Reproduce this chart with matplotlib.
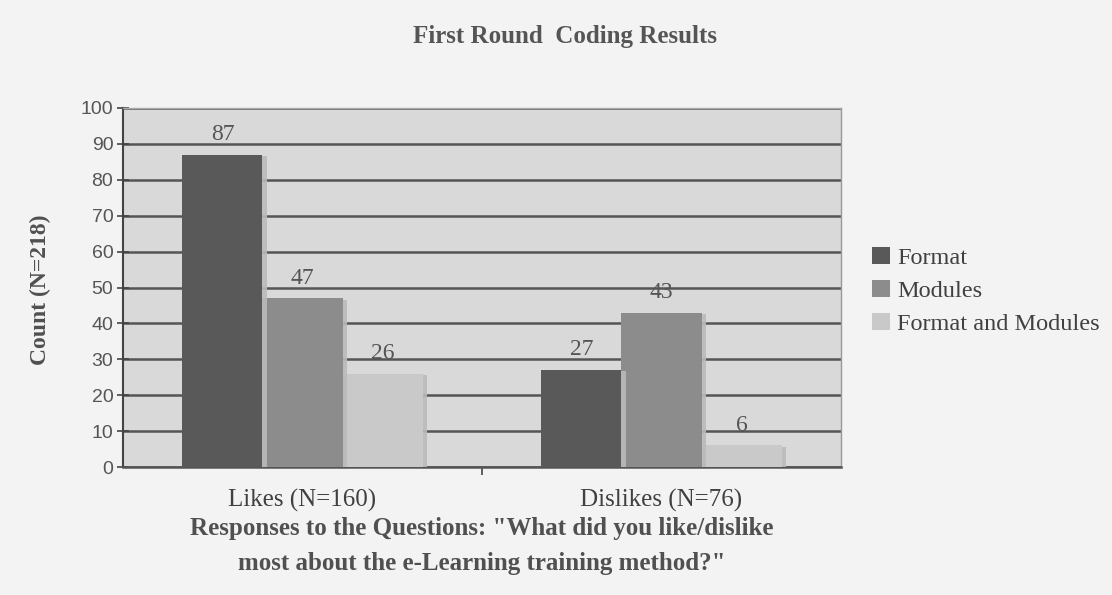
import matplotlib
matplotlib.use("Agg")
from matplotlib import pyplot as plt
from matplotlib import patheffects
import numpy as np

categories = ["Likes (N=160)", "Dislikes (N=76)"]
series = ["Format", "Modules", "Format and Modules"]
format_vals = [87, 27]
modules_vals = [47, 43]
both_vals = [26, 6]
colors = ["#595959", "#8c8c8c", "#c9c9c9"]

plt.rcParams["font.family"] = ["Liberation Serif", "DejaVu Serif"]

fig = plt.figure(figsize=(11.12, 5.95), dpi=100, facecolor="#f3f3f3")
ax = fig.add_axes([0.1106, 0.2151, 0.6457, 0.6034])
ax.set_facecolor("#d9d9d9")

x = np.arange(len(categories))
w = 0.223
shadow = [patheffects.SimplePatchShadow(offset=(3, -1), shadow_rgbFace="#bababa", alpha=0.9),
          patheffects.Normal()]
for i, (vals, name) in enumerate(zip([format_vals, modules_vals, both_vals], series)):
    bars = ax.bar(x + (i - 1) * w, vals, w, color=colors[i], label=name, zorder=3 - i * 0.1,
                  path_effects=shadow)
    for b, v in zip(bars, vals):
        ax.annotate(str(v), (b.get_x() + b.get_width() / 2, v), xytext=(0, 7),
                    textcoords="offset points", ha="center", va="bottom",
                    fontsize=17, color="#555555")

ax.set_xlim(-0.5, 1.5)
ax.set_ylim(0, 100)
ax.set_yticks(range(0, 101, 10))
ax.set_xticks([0.5], minor=True)
ax.set_xticks(x)
ax.set_xticklabels(categories, fontsize=18, color="#404040")
ax.tick_params(axis="x", which="major", length=0, pad=16)
ax.tick_params(axis="x", which="minor", length=6, width=1.2, color="#444444", direction="out")
ax.tick_params(axis="y", length=8, width=1.2, color="#444444", direction="inout", pad=3)
for lab in ax.get_yticklabels():
    lab.set_fontfamily(["Liberation Sans", "DejaVu Sans"])
    lab.set_fontsize(14)
    lab.set_color("#555555")

ax.yaxis.grid(True, color="#555555", linewidth=1.8, zorder=1)
ax.set_axisbelow(True)
ax.spines["left"].set_color("#444444")
ax.spines["left"].set_linewidth(1.5)
ax.spines["bottom"].set_color("#555555")
ax.spines["bottom"].set_linewidth(1.8)
ax.spines["top"].set_color("#aaaaaa")
ax.spines["top"].set_linewidth(1.0)
ax.spines["right"].set_color("#999999")
ax.spines["right"].set_linewidth(1.0)

fig.text(0.508, 0.938, "First Round  Coding Results", ha="center", va="center",
         fontsize=18, fontweight="bold", color="#555555")
fig.text(0.036, 0.513, "Count (N=218)", rotation=90, ha="center", va="center",
         fontsize=17, fontweight="bold", color="#505050")
fig.text(0.433, 0.082, "Responses to the Questions: \"What did you like/dislike\nmost about the e-Learning training method?\"",
         ha="center", va="center", fontsize=18, fontweight="bold", color="#505050",
         linespacing=1.65)

leg = ax.legend(loc="center left", bbox_to_anchor=(1.013, 0.49), frameon=False,
                fontsize=17.5, handlelength=0.72, handleheight=0.72, handletextpad=0.3,
                labelspacing=0.45, labelcolor="#404040")
for h in leg.legend_handles:
    h.set_path_effects([])

fig.savefig("out.png", dpi=100, facecolor=fig.get_facecolor())
